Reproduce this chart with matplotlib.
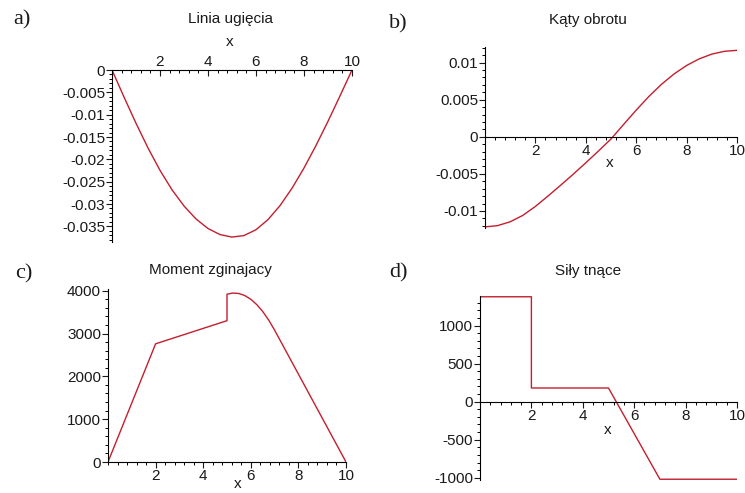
import numpy as np
import matplotlib.pyplot as plt
from matplotlib.ticker import FixedLocator, MultipleLocator, FuncFormatter

plt.rcParams['axes.unicode_minus'] = False
plt.rcParams['font.family'] = ['Liberation Sans', 'DejaVu Sans']

# --- data ---
xs = [0, 0.5, 1, 1.5, 2, 2.5, 3, 3.5, 4, 4.5, 5, 5.5, 6, 6.5, 7, 7.5, 8, 8.5, 9, 9.5, 10]

# a) linia ugiecia (deflection)
ugiecie = [0, -0.00605, -0.01192, -0.01745, -0.02246, -0.02681, -0.03044, -0.03334,
           -0.03548, -0.03684, -0.03740, -0.03706, -0.03575, -0.03349, -0.03036,
           -0.02647, -0.02194, -0.01690, -0.01148, -0.00580, 0]

# b) katy obrotu (rotation)
obrot = [-0.01215, -0.01198, -0.01146, -0.01060, -0.00939, -0.00799, -0.00654, -0.00505,
         -0.00351, -0.00193, -0.00030, 0.00166, 0.00359, 0.00542, 0.00706,
         0.00846, 0.00961, 0.01050, 0.01114, 0.01152, 0.01165]

# c) moment zginajacy
mx = [0, 2, 3, 4, 5, 5, 5.25, 5.5, 5.75, 6, 6.25, 6.5, 6.75, 7, 8, 9, 10]
my = [0, 2760, 2940, 3120, 3300, 3920, 3946, 3935, 3886, 3800, 3676, 3515, 3316, 3080,
      2053, 1027, 0]

# d) sily tnace (shear)
vx = [0, 2, 2, 5, 7, 10]
vy = [1380, 1380, 180, 180, -1020, -1020]

W, H = 745, 493
fig = plt.figure(figsize=(W / 100, H / 100), dpi=100)

RED = '#c41e2e'
TXT = '#1a1a1a'
FS = 11


def px_axes(x0, x1, ytop, ybot):
    return fig.add_axes([x0 / W, 1 - ybot / H, (x1 - x0) / W, (ybot - ytop) / H])


def fmt(v, pos):
    return '%g' % v


def maple_style(ax, xlim, ylim, yticks, yminor, xaxis_side='bottom', xdir='out'):
    ax.set_xlim(*xlim)
    ax.set_ylim(*ylim)
    for s in ['top', 'right', 'bottom']:
        ax.spines[s].set_visible(False)
    ax.spines['left'].set_position(('data', 0))
    ax.spines['left'].set_linewidth(0.8)
    sp = ax.spines[xaxis_side]
    sp.set_visible(True)
    sp.set_position(('data', 0))
    sp.set_linewidth(0.8)
    ax.xaxis.set_ticks_position(xaxis_side)
    ax.xaxis.set_label_position(xaxis_side)
    ax.xaxis.set_major_locator(FixedLocator([2, 4, 6, 8, 10]))
    ax.xaxis.set_minor_locator(MultipleLocator(0.4))
    ax.yaxis.set_major_locator(FixedLocator(yticks))
    ax.yaxis.set_minor_locator(MultipleLocator(yminor))
    ax.yaxis.set_major_formatter(FuncFormatter(fmt))
    ax.xaxis.set_major_formatter(FuncFormatter(fmt))
    ax.tick_params(axis='x', which='major', direction=xdir, length=4, width=0.8,
                   labelsize=FS, colors=TXT, pad=1)
    ax.tick_params(axis='x', which='minor', direction=xdir, length=2.2, width=0.7)
    ax.tick_params(axis='y', which='major', direction='out', length=4, width=0.8,
                   labelsize=FS, colors=TXT, pad=1)
    ax.tick_params(axis='y', which='minor', direction='out', length=2.2, width=0.7)
    ax.patch.set_alpha(0)


# a)
ax1 = px_axes(112, 352, 70, 242)
ax1.plot(xs, ugiecie, color=RED, lw=1.0)
maple_style(ax1, (0, 10), (-0.0385, 0),
            [0, -0.005, -0.01, -0.015, -0.02, -0.025, -0.03, -0.035], 0.001,
            xaxis_side='top', xdir='in')

# b)
ax2 = px_axes(485, 737, 47, 228)
ax2.plot(xs, obrot, color=RED, lw=1.0)
maple_style(ax2, (0, 10), (-0.0123, 0.0121), [-0.01, -0.005, 0, 0.005, 0.01], 0.001)

# c)
ax3 = px_axes(108, 346, 289, 462)
ax3.plot(mx, my, color=RED, lw=1.0)
maple_style(ax3, (0, 10), (0, 4040), [0, 1000, 2000, 3000, 4000], 200)

# d)
ax4 = px_axes(480, 737, 296, 480)
ax4.plot(vx, vy, color=RED, lw=1.0)
maple_style(ax4, (0, 10), (-1030, 1390), [-1000, -500, 0, 500, 1000], 100)


def ftext(x, y, s, **kw):
    fig.text(x / W, 1 - y / H, s, ha='center', va='center', color=TXT, **kw)


ftext(230, 19, 'Linia ugięcia', fontsize=FS)
ftext(588, 20, 'Kąty obrotu', fontsize=FS)
ftext(210, 270, 'Moment zginajacy', fontsize=FS)
ftext(588, 271, 'Siły tnące', fontsize=FS)

ftext(230, 42, 'x', fontsize=FS)
ftext(610, 163, 'x', fontsize=FS)
ftext(238, 484, 'x', fontsize=FS)
ftext(608, 430, 'x', fontsize=FS)

for lab, x, y in [('a)', 22, 20), ('b)', 398, 24), ('c)', 24, 274), ('d)', 398, 273)]:
    ftext(x, y, lab, fontsize=16, family='Liberation Serif')

fig.savefig('out.png', dpi=100)
